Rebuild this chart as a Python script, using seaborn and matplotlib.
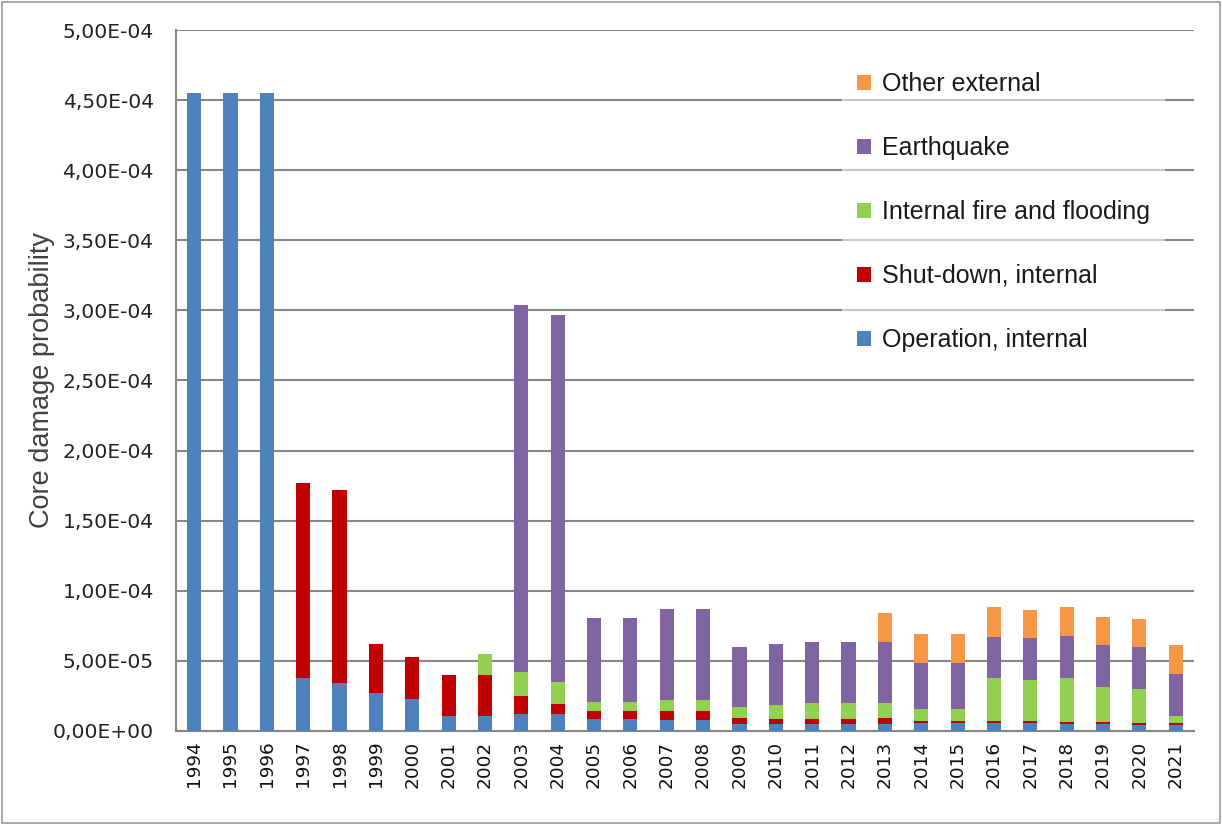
import matplotlib
matplotlib.use("Agg")
import matplotlib.pyplot as plt
import seaborn as sns
import numpy as np
import pandas as pd
from matplotlib.patches import Patch, Rectangle
from matplotlib.ticker import FixedLocator

years = [str(y) for y in range(1994, 2022)]

operation_internal = [45.5, 45.5, 45.5, 3.8, 3.4, 2.7, 2.3, 1.1, 1.1, 1.2, 1.2, 0.86, 0.86, 0.76,
                      0.76, 0.5, 0.5, 0.5, 0.5, 0.5, 0.55, 0.55, 0.6, 0.6, 0.52, 0.52, 0.43, 0.43]
shutdown_internal = [0, 0, 0, 13.9, 13.8, 3.5, 2.96, 2.9, 2.9, 1.3, 0.7, 0.54, 0.54, 0.64,
                     0.64, 0.45, 0.38, 0.38, 0.38, 0.4, 0.17, 0.17, 0.1, 0.1, 0.12, 0.12, 0.12, 0.12]
fire_flooding = [0, 0, 0, 0, 0, 0, 0, 0, 1.5, 1.74, 1.6, 0.67, 0.67, 0.84,
                 0.84, 0.79, 0.98, 1.12, 1.12, 1.12, 0.85, 0.85, 3.08, 2.94, 3.14, 2.48, 2.47, 0.5]
earthquake = [0, 0, 0, 0, 0, 0, 0, 0, 0, 26.16, 26.2, 5.98, 5.98, 6.45,
              6.45, 4.28, 4.34, 4.38, 4.38, 4.36, 3.26, 3.26, 2.91, 3.0, 3.01, 3.0, 3.0, 3.0]
other_external = [0, 0, 0, 0, 0, 0, 0, 0, 0, 0, 0, 0, 0, 0,
                  0, 0, 0, 0, 0, 2.02, 2.07, 2.07, 2.14, 2.02, 2.04, 2.02, 1.96, 2.07]

series_names = ["Operation, internal", "Shut-down, internal", "Internal fire and flooding",
                "Earthquake", "Other external"]
series_values = [operation_internal, shutdown_internal, fire_flooding, earthquake, other_external]
colors = ["#4F81BD", "#C00000", "#92D050", "#8064A2", "#F79646"]
scale = 1e-5

y_ticks = [0, 5e-5, 1e-4, 1.5e-4, 2e-4, 2.5e-4, 3e-4, 3.5e-4, 4e-4, 4.5e-4, 5e-4]
y_tick_labels = ["0,00E+00", "5,00E-05", "1,00E-04", "1,50E-04", "2,00E-04", "2,50E-04",
                 "3,00E-04", "3,50E-04", "4,00E-04", "4,50E-04", "5,00E-04"]

sns.set_style("white")
plt.rcParams["font.family"] = ["Liberation Sans", "DejaVu Sans"]

fig = plt.figure(figsize=(12.22, 8.25), dpi=100)
ax = fig.add_axes([0.144, 0.114, 0.833, 0.8496])

cum = np.cumsum(np.array(series_values, dtype=float), axis=0) * scale
df = pd.DataFrame({"year": years})
for i in range(len(series_names) - 1, -1, -1):
    df["v"] = cum[i]
    sns.barplot(data=df, x="year", y="v", color=colors[i], width=0.39,
                saturation=1, ax=ax, linewidth=0, zorder=3)

ax.set_xlim(-0.5, len(years) - 0.5)
ax.set_ylim(0, 5e-4)
ax.yaxis.set_major_locator(FixedLocator(y_ticks))
ax.set_yticklabels(y_tick_labels, fontsize=14.6, family="DejaVu Sans", color="#222222")
ax.grid(axis="y", color="#868686", linewidth=1.5, zorder=0)
ax.set_axisbelow(True)

ax.set_xticks(range(len(years)))
ax.set_xticklabels(years, rotation=90, fontsize=13.3, family="DejaVu Sans", color="#111111")
ax.set_xticks(np.arange(-0.5, len(years)), minor=True)
ax.tick_params(axis="x", which="major", length=0, pad=7)
ax.tick_params(axis="x", which="minor", length=6, color="#868686", width=1.2)
ax.tick_params(axis="y", which="major", length=6, color="#868686", width=1.2, pad=10)

ax.set_xlabel("")
ax.set_ylabel("Core damage probability", fontsize=19.5, color="#404040", labelpad=-2)

for s in ["top", "right"]:
    ax.spines[s].set_visible(False)
for s in ["left", "bottom"]:
    ax.spines[s].set_color("#868686")
    ax.spines[s].set_linewidth(1.5)

handles = [Patch(facecolor=colors[i], edgecolor="none", label=series_names[i])
           for i in range(len(series_names) - 1, -1, -1)]
leg = ax.legend(handles=handles, loc="upper left", bbox_to_anchor=(842 / 1222, 1 - 57 / 825),
                bbox_transform=fig.transFigure, borderaxespad=0,
                frameon=True, fontsize=18, labelspacing=1.6, handlelength=0.56,
                handleheight=0.56, handletextpad=0.45, borderpad=0.6, framealpha=0.55,
                fancybox=False)
leg.get_frame().set_edgecolor("none")
leg.get_frame().set_facecolor("white")
for t in leg.get_texts():
    t.set_color("#1a1a1a")

fig.patches.append(Rectangle((0.002, 0.003), 0.996, 0.994, transform=fig.transFigure,
                             fill=False, edgecolor="#9a9a9a", linewidth=1.2))

fig.savefig("out.png", dpi=100)
